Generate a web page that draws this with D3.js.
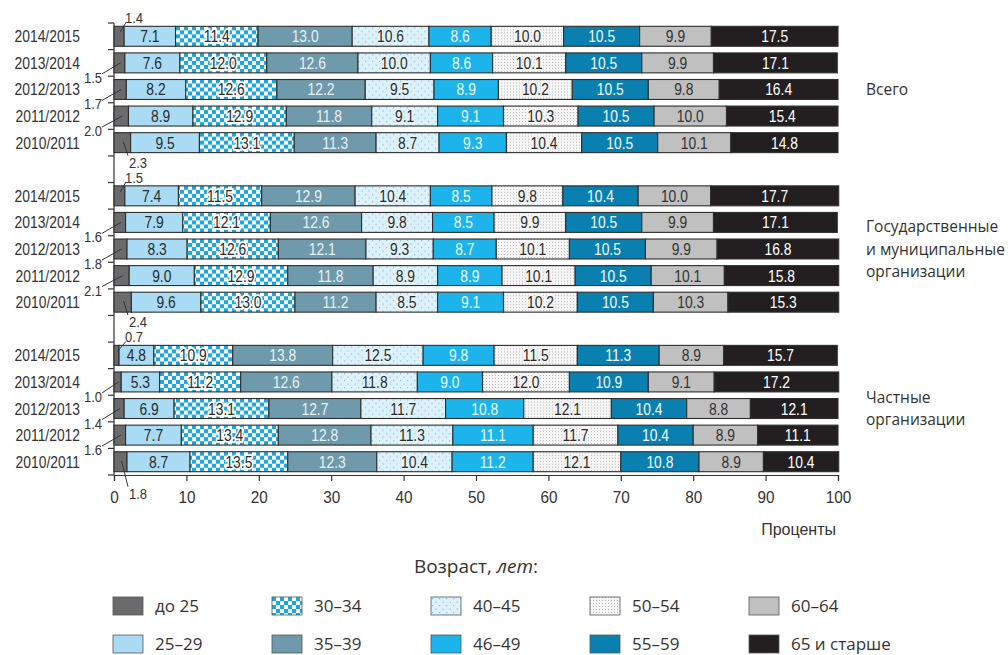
<!DOCTYPE html>
<meta charset="utf-8" />
<script src="https://d3js.org/d3.v7.min.js"></script>
<style>
  body { margin: 0; background: #fff; }
  .narrow { font-family: "Liberation Sans", Arial, sans-serif; }
  .wide { font-family: "Open Sans", "Noto Sans", sans-serif; }
</style>
<div id="chart"></div>
<script>
  // --- data ---
  const yearLabels = ["2014/2015", "2013/2014", "2012/2013", "2011/2012", "2010/2011"];
  const groupNames = [
    ["Всего"],
    ["Государственные", "и муниципальные", "организации"],
    ["Частные", "организации"]
  ];
  const ageGroups = ["до 25", "25–29", "30–34", "35–39", "40–45", "46–49", "50–54", "55–59", "60–64", "65 и старше"];

  // shares by age group, %, rows follow yearLabels
  const totalShares = [
    [1.4, 7.1, 11.4, 13.0, 10.6, 8.6, 10.0, 10.5, 9.9, 17.5],
    [1.5, 7.6, 12.0, 12.6, 10.0, 8.6, 10.1, 10.5, 9.9, 17.1],
    [1.7, 8.2, 12.6, 12.2, 9.5, 8.9, 10.2, 10.5, 9.8, 16.4],
    [2.0, 8.9, 12.9, 11.8, 9.1, 9.1, 10.3, 10.5, 10.0, 15.4],
    [2.3, 9.5, 13.1, 11.3, 8.7, 9.3, 10.4, 10.5, 10.1, 14.8]
  ];
  const publicShares = [
    [1.5, 7.4, 11.5, 12.9, 10.4, 8.5, 9.8, 10.4, 10.0, 17.7],
    [1.6, 7.9, 12.1, 12.6, 9.8, 8.5, 9.9, 10.5, 9.9, 17.1],
    [1.8, 8.3, 12.6, 12.1, 9.3, 8.7, 10.1, 10.5, 9.9, 16.8],
    [2.1, 9.0, 12.9, 11.8, 8.9, 8.9, 10.1, 10.5, 10.1, 15.8],
    [2.4, 9.6, 13.0, 11.2, 8.5, 9.1, 10.2, 10.5, 10.3, 15.3]
  ];
  const privateShares = [
    [0.7, 4.8, 10.9, 13.8, 12.5, 9.8, 11.5, 11.3, 8.9, 15.7],
    [1.0, 5.3, 11.2, 12.6, 11.8, 9.0, 12.0, 10.9, 9.1, 17.2],
    [1.4, 6.9, 13.1, 12.7, 11.7, 10.8, 12.1, 10.4, 8.8, 12.1],
    [1.6, 7.7, 13.4, 12.8, 11.3, 11.1, 11.7, 10.4, 8.9, 11.1],
    [1.8, 8.7, 13.5, 12.3, 10.4, 11.2, 12.1, 10.8, 8.9, 10.4]
  ];
  const groupShares = [totalShares, publicShares, privateShares];

  // --- styling ---
  const fills = ["#6b6b6e", "#a9dcf4", "url(#checker)", "#6e9aab", "url(#dotsBlue)",
                 "#1cb4ea", "url(#dotsGray)", "#0a80b0", "#c0c0c0", "#231f20"];
  const textColors = ["#333", "#2b2b2b", "#2b2b2b", "#e8f1f4", "#2b2b2b",
                      "#eef8fc", "#2b2b2b", "#f2f8fb", "#333", "#ffffff"];
  const haloColors = [null, null, "#ffffff", null, "#e2f3fb", null, "#f4f4f4", null, null, null];
  const SQUEEZE = 0.84; // the original uses a condensed face

  const width = 1008, height = 655;
  const svg = d3.select("#chart").append("svg")
    .attr("width", width).attr("height", height);

  // condensed text: place with a transform and squeeze horizontally
  function narrowText(parent, tx, ty, str, size, anchor) {
    return parent.append("text").attr("class", "narrow")
      .attr("transform", "translate(" + tx + "," + ty + ") scale(" + SQUEEZE + ",1)")
      .attr("text-anchor", anchor || "start")
      .attr("font-size", size).attr("fill", "#333")
      .text(str);
  }

  // patterns
  const defs = svg.append("defs");
  const chk = defs.append("pattern").attr("id", "checker")
    .attr("patternUnits", "userSpaceOnUse").attr("width", 8).attr("height", 8);
  chk.append("rect").attr("width", 8).attr("height", 8).attr("fill", "#ffffff");
  chk.append("rect").attr("width", 4).attr("height", 4).attr("fill", "#1aa8e0");
  chk.append("rect").attr("x", 4).attr("y", 4).attr("width", 4).attr("height", 4).attr("fill", "#1aa8e0");

  const db = defs.append("pattern").attr("id", "dotsBlue")
    .attr("patternUnits", "userSpaceOnUse").attr("width", 7).attr("height", 7);
  db.append("rect").attr("width", 7).attr("height", 7).attr("fill", "#ddf1fa");
  db.append("rect").attr("x", 1).attr("y", 1).attr("width", 1.2).attr("height", 1.2).attr("fill", "#7fc3e3");
  db.append("rect").attr("x", 4.5).attr("y", 4.5).attr("width", 1.2).attr("height", 1.2).attr("fill", "#7fc3e3");

  const dg = defs.append("pattern").attr("id", "dotsGray")
    .attr("patternUnits", "userSpaceOnUse").attr("width", 3).attr("height", 3);
  dg.append("rect").attr("width", 3).attr("height", 3).attr("fill", "#f5f5f5");
  dg.append("rect").attr("x", 0).attr("y", 0).attr("width", 1).attr("height", 1).attr("fill", "#b8b8b8");

  // --- scales ---
  const x = d3.scaleLinear().domain([0, 100]).range([114, 838]);

  const slots = [];
  groupShares.forEach((g, gi) => {
    yearLabels.forEach(yr => slots.push(gi + "|" + yr));
    if (gi < groupShares.length - 1) slots.push("gap" + gi);
  });
  const y = d3.scaleBand().domain(slots).range([23, 475])
    .paddingInner(0.25).paddingOuter(0.125);
  const step = y.step(), bw = y.bandwidth();
  const gapHalf = (step - bw) / 2;

  // rows with stacked segments
  const rows = [];
  groupShares.forEach((g, gi) => {
    g.forEach((vals, ri) => {
      let acc = 0;
      const segs = vals.map((v, k) => {
        const s = { k, v, x0: acc, x1: acc + v };
        acc += v;
        return s;
      });
      rows.push({ gi, ri, key: gi + "|" + yearLabels[ri], year: yearLabels[ri], segs });
    });
  });

  // --- y axis line and ticks ---
  svg.append("line")
    .attr("x1", x(0)).attr("x2", x(0))
    .attr("y1", y(slots[0]) - gapHalf).attr("y2", 475)
    .attr("stroke", "#333").attr("stroke-width", 1.2);

  const tickYs = [];
  rows.forEach(r => {
    tickYs.push(y(r.key) - gapHalf);
    if (r.ri === yearLabels.length - 1) tickYs.push(y(r.key) + bw + gapHalf);
  });
  svg.append("g").selectAll("line").data(tickYs).join("line")
    .attr("x1", x(0) - 6).attr("x2", x(0))
    .attr("y1", d => d).attr("y2", d => d)
    .attr("stroke", "#333").attr("stroke-width", 1.2);

  // year labels
  const yearG = svg.append("g");
  rows.forEach(r => narrowText(yearG, 80, y(r.key) + bw / 2 + 6, r.year, 16.5, "end"));

  // bars
  const rowG = svg.append("g").selectAll("g").data(rows).join("g")
    .attr("transform", r => "translate(0," + y(r.key) + ")");

  rowG.selectAll("rect").data(r => r.segs).join("rect")
    .attr("x", s => x(s.x0)).attr("y", 0)
    .attr("width", s => x(s.x1) - x(s.x0)).attr("height", bw)
    .attr("fill", s => fills[s.k])
    .attr("stroke", "#2e2e2e").attr("stroke-width", 1.1);

  // labels inside the segments (not the first, tiny one)
  rowG.selectAll("text.val").data(r => r.segs.filter(s => s.k > 0)).join("text")
    .attr("class", "val narrow")
    .attr("transform", s => "translate(" + x((s.x0 + s.x1) / 2) + "," + (bw / 2 + 6) + ") scale(" + SQUEEZE + ",1)")
    .attr("text-anchor", "middle")
    .attr("font-size", 16.5).attr("fill", s => textColors[s.k])
    .attr("stroke", s => haloColors[s.k] || "none")
    .attr("stroke-width", s => haloColors[s.k] ? 3.5 : 0)
    .attr("paint-order", "stroke")
    .text(s => s.v.toFixed(1));

  // small "до 25" values with leader lines
  const nLast = yearLabels.length - 1;
  const smallG = svg.append("g");
  rows.forEach(r => {
    const s = r.segs[0];
    const top = y(r.key), bot = top + bw;
    const cx = x(s.v / 2);
    let lx1, ly1, lx2, ly2, tx, ty, anchor;
    if (r.ri === 0) {
      lx1 = cx + 1; ly1 = top + 6; lx2 = x(0) + 12; ly2 = top - 4;
      tx = x(0) + 11; ty = top - 3; anchor = "start";
    } else if (r.ri === nLast) {
      const drop = r.gi === groupShares.length - 1 ? 16 : 4;
      lx1 = cx + 1; ly1 = top + 9; lx2 = x(0) + 14; ly2 = bot + drop - 1;
      tx = x(0) + 15; ty = bot + drop + 11; anchor = "start";
    } else {
      lx1 = cx + 1; ly1 = top + 10; lx2 = x(0) - 12; ly2 = bot + 1;
      tx = x(0) - 12; ty = bot + 10; anchor = "end";
    }
    smallG.append("line")
      .attr("x1", lx1).attr("y1", ly1).attr("x2", lx2).attr("y2", ly2)
      .attr("stroke", "#333").attr("stroke-width", 1);
    narrowText(smallG, tx, ty, s.v.toFixed(1), 15.5, anchor);
  });

  // group names on the right
  groupNames.forEach((lines, gi) => {
    const first = y(gi + "|" + yearLabels[0]);
    const last = y(gi + "|" + yearLabels[nLast]) + bw;
    const mid = (first + last) / 2;
    const lh = 22.5;
    svg.append("text").attr("class", "wide")
      .attr("x", 866).attr("font-size", 15.5).attr("fill", "#333")
      .selectAll("tspan").data(lines).join("tspan")
      .attr("x", 866)
      .attr("y", (d, i) => mid + (i - (lines.length - 1) / 2) * lh)
      .attr("dy", "0.36em")
      .text(d => d);
  });

  // --- x axis ---
  const xAxis = d3.axisBottom(x).tickValues(d3.range(0, 101, 10)).tickSize(6).tickPadding(10)
    .tickFormat(d3.format("d"));
  const gx = svg.append("g").attr("transform", "translate(0,475)").call(xAxis);
  gx.select(".domain").attr("stroke", "#333").attr("stroke-width", 1.2);
  gx.selectAll(".tick line").attr("stroke", "#333").attr("stroke-width", 1.2);
  gx.selectAll(".tick text").attr("class", "narrow").attr("font-size", 17).attr("fill", "#333")
    .attr("transform", "scale(0.9,1)");

  svg.append("text").attr("class", "narrow")
    .attr("x", 836).attr("y", 535).attr("text-anchor", "end")
    .attr("font-size", 16).attr("fill", "#333")
    .text("Проценты");

  // --- legend ---
  const lt = svg.append("text").attr("class", "wide")
    .attr("x", 476).attr("y", 573).attr("text-anchor", "middle")
    .attr("font-size", 19).attr("fill", "#333");
  lt.append("tspan").text("Возраст, ");
  lt.append("tspan").attr("font-style", "italic").text("лет");
  lt.append("tspan").text(":");

  const legCol = d3.scalePoint().domain(d3.range(5)).range([113, 749]);
  const legRow = d3.scalePoint().domain([0, 1]).range([597, 635]);
  const leg = svg.append("g").selectAll("g").data(ageGroups).join("g")
    .attr("transform", (d, i) => "translate(" + legCol(Math.floor(i / 2)) + "," + legRow(i % 2) + ")");
  leg.append("rect").attr("width", 30).attr("height", 18)
    .attr("fill", (d, i) => fills[i]).attr("stroke", "#555").attr("stroke-width", 0.8);
  leg.append("text").attr("class", "wide")
    .attr("x", 42).attr("y", 9).attr("dy", "0.36em")
    .attr("font-size", 17).attr("fill", "#333")
    .text(d => d);
</script>
